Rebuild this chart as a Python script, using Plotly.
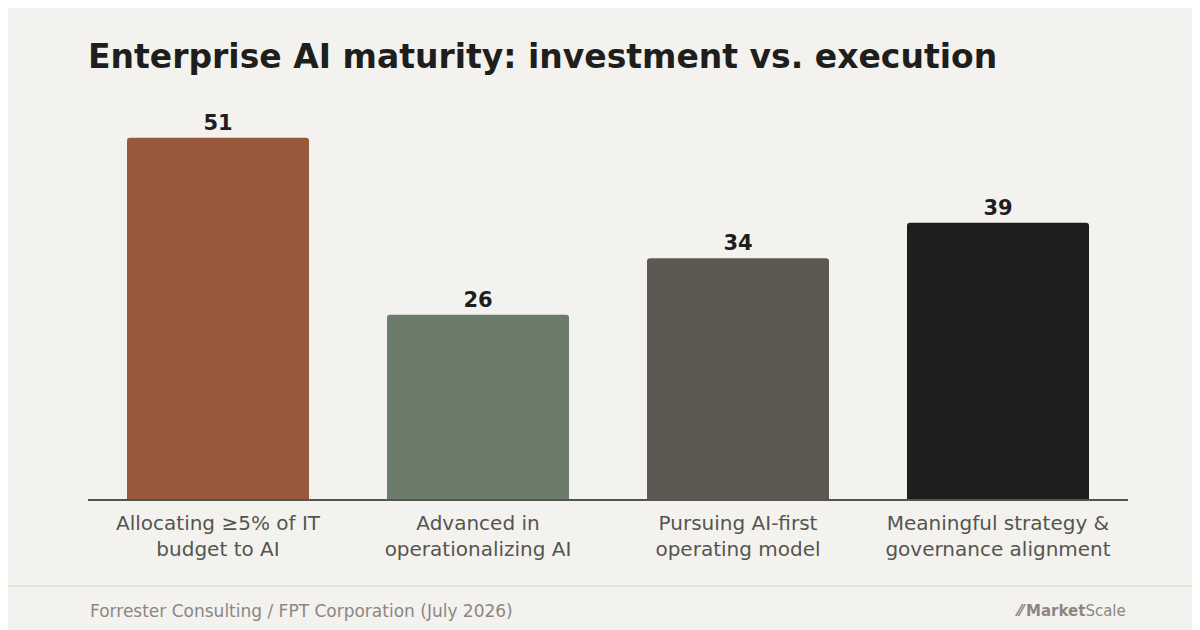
import plotly.graph_objects as go

categories = ["Allocating ≥5% of IT<br>budget to AI", "Advanced in<br>operationalizing AI",
              "Pursuing AI-first<br>operating model", "Meaningful strategy &<br>governance alignment"]
values = [51, 26, 34, 39]
colors = ["#9a583b", "#6b7c6b", "#5d5851", "#1e1e1c"]

BG = "#f4f2ee"
FONT = "DejaVu Sans"

fig = go.Figure(go.Bar(
    x=categories, y=values,
    marker=dict(color=colors, cornerradius=3, line=dict(width=0)),
    text=[f"<b>{v}</b>" for v in values], textposition="outside",
    textfont=dict(family=FONT, size=21, color="#1e1e1c"),
    cliponaxis=False, hoverinfo="skip",
))

fig.update_layout(
    width=1200, height=630,
    paper_bgcolor=BG, plot_bgcolor=BG,
    margin=dict(l=80, r=80, t=100, b=139),
    bargap=0.3, showlegend=False,
    font=dict(family=FONT),
    title=dict(text="<b>Enterprise AI maturity: investment vs. execution</b>",
               x=80 / 1200, xanchor="left", y=1 - 48 / 630, yanchor="middle",
               font=dict(size=33, color="#1e1e1c", family=FONT)),
    shapes=[dict(type="line", xref="paper", yref="paper", x0=-80 / 1040, x1=1 + 80 / 1040,
                 y0=-87 / 391, y1=-87 / 391, line=dict(color="#e2dfda", width=1.5))],
    annotations=[
        dict(text="Forrester Consulting / FPT Corporation (July 2026)", xref="paper", yref="paper",
             x=0, y=-112 / 391, xanchor="left", yanchor="middle", showarrow=False,
             font=dict(size=17, color="#8a8782", family=FONT)),
        dict(text="<b>⁄⁄</b>\u2009<b>Market</b>Scale", xref="paper", yref="paper",
             x=1, y=-112 / 391, xanchor="right", yanchor="middle", showarrow=False,
             font=dict(size=15, color="#8a8782", family=FONT)),
    ],
)
fig.update_xaxes(showline=True, linecolor="#555550", linewidth=1.5, ticks="",
                 tickfont=dict(size=20, color="#555550", family=FONT), ticklabelstandoff=5)
fig.update_yaxes(visible=False, range=[0, 55.2], showgrid=False, zeroline=False)

fig.write_html("out.html")
